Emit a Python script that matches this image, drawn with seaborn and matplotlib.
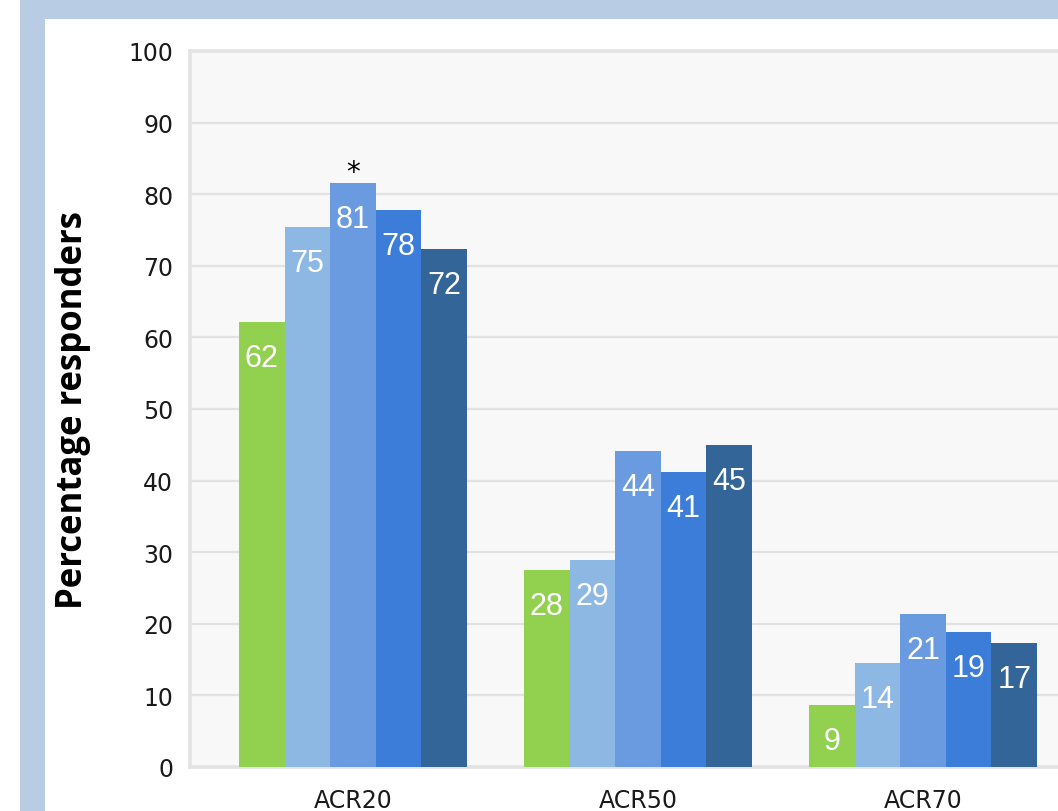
import matplotlib
matplotlib.use("Agg")
import matplotlib.pyplot as plt
import seaborn as sns
import pandas as pd
from matplotlib.patches import Rectangle

# ---------------- data ----------------
categories = ["ACR20", "ACR50", "ACR70"]
series_names = ["Series 1", "Series 2", "Series 3", "Series 4", "Series 5"]
series1 = [62.2, 27.5, 8.6]
series2 = [75.4, 28.9, 14.5]
series3 = [81.5, 44.1, 21.4]
series4 = [77.8, 41.2, 18.9]
series5 = [72.4, 45.0, 17.3]
labels1 = [62, 28, 9]
labels2 = [75, 29, 14]
labels3 = [81, 44, 21]
labels4 = [78, 41, 19]
labels5 = [72, 45, 17]
yticks = [0, 10, 20, 30, 40, 50, 60, 70, 80, 90, 100]
ylabel_text = "Percentage responders"
star_text = "*"

colors = ["#92d050", "#8db8e3", "#6a9be0", "#3c7dd9", "#346598"]

all_values = [series1, series2, series3, series4, series5]
all_labels = [labels1, labels2, labels3, labels4, labels5]

rows = []
for name, vals in zip(series_names, all_values):
    for cat, v in zip(categories, vals):
        rows.append({"category": cat, "series": name, "value": v})
df = pd.DataFrame(rows)

# ---------------- style ----------------
sns.set_theme(style="white")
plt.rcParams["font.family"] = ["DejaVu Sans"]

W, H = 1058, 812
fig = plt.figure(figsize=(W / 100, H / 100), dpi=100)
fig.patch.set_facecolor("white")

frame_col = "#b8cce4"
fig.patches.append(Rectangle((20 / W, 0), 25 / W, 1, transform=fig.transFigure,
                             facecolor=frame_col, edgecolor="none", zorder=0))
fig.patches.append(Rectangle((20 / W, 1 - 20 / H), 1, 20 / H, transform=fig.transFigure,
                             facecolor=frame_col, edgecolor="none", zorder=0))

ax = fig.add_axes([190 / W, 44 / H, 896 / W, 716 / H])
sns.barplot(data=df, x="category", y="value", hue="series",
            order=categories, hue_order=series_names, palette=colors,
            saturation=1, width=0.8, legend=False, ax=ax, zorder=3,
            edgecolor="none", linewidth=0)

ax.set_xlim(-0.572, 2.572)
ax.set_ylim(0, 100)
ax.set_yticks(yticks)
ax.set_facecolor("#f8f8f8")
ax.yaxis.grid(True, color="#e2e2e2", linewidth=1.6)
ax.set_axisbelow(True)

for side in ["left", "top", "bottom"]:
    ax.spines[side].set_visible(True)
    ax.spines[side].set_color("#e3e3e3")
    ax.spines[side].set_linewidth(2.6)
ax.spines["right"].set_visible(False)

ax.tick_params(axis="y", length=0, pad=12, labelsize=17, labelcolor="#1a1a1a")
ax.tick_params(axis="x", length=0, pad=15, labelsize=17, labelcolor="#1a1a1a")
ax.set_xlabel("")
ax.set_ylabel(ylabel_text, fontsize=25, fontweight="bold", family="Open Sans",
              color="black", va="center")
ax.yaxis.set_label_coords((73 - 190) / 896, 0.5)

# value labels
for cont, labs in zip(ax.containers, all_labels):
    for bar, lab in zip(cont, labs):
        ax.annotate(str(lab), xy=(bar.get_x() + bar.get_width() / 2, bar.get_height()),
                    xytext=(0, -36), textcoords="offset pixels",
                    ha="center", va="center", color="white", fontsize=22,
                    family="Liberation Sans", zorder=5)

# asterisk above third series in first category
star_bar = ax.containers[2][0]
ax.annotate(star_text, xy=(star_bar.get_x() + star_bar.get_width() / 2, star_bar.get_height()),
            xytext=(0, 11), textcoords="offset pixels", ha="center", va="center",
            fontsize=20, color="black", family="DejaVu Sans", zorder=5)

fig.savefig("out.png", dpi=100)
